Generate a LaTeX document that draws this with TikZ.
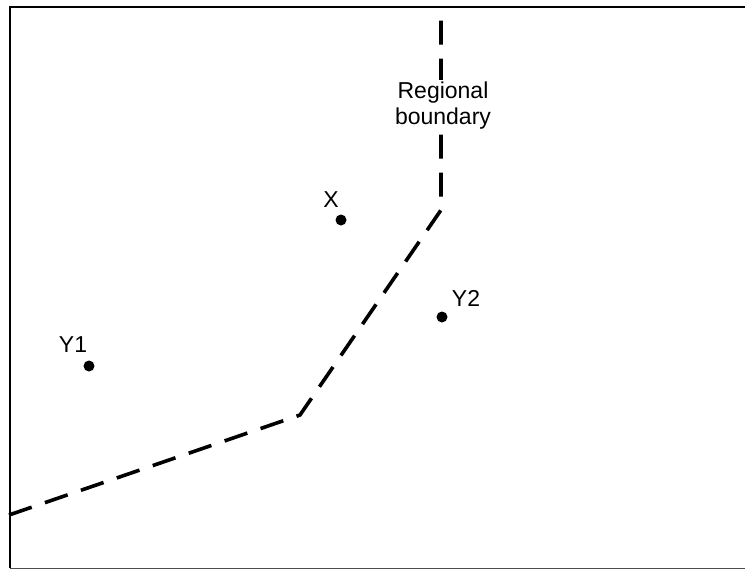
\documentclass[tikz,border=0pt]{standalone}
\usepackage{fontspec}
\setmainfont{Liberation Sans}
\begin{document}
\begin{tikzpicture}[x=1pt,y=-1pt,
  frameline/.style={line width=1.6pt,black},
  boundary/.style={line width=3.6pt,dash pattern=on 24pt off 14pt},
  pt/.style={circle,fill=black,inner sep=0pt,minimum size=11pt},
  lbl/.style={font=\fontsize{23}{26}\selectfont,inner sep=1pt}]
\useasboundingbox (0,0) rectangle (745,570);
% frame
\coordinate (tl) at (10,7);
\coordinate (tr) at (745,7);
\coordinate (bl) at (10,568);
\coordinate (br) at (745,568);
\draw[frameline] (tr) -- (tl) -- (bl);
\draw[line width=1pt,black!70] (bl) -- (br);
% boundary
\coordinate (b0) at (441,9);
\coordinate (b1) at (441,210);
\coordinate (b2) at (300,415);
\coordinate (b3) at (9,515);
\draw[boundary] (b3) -- (b2) -- (b1) -- (b0);
\node[lbl,fill=white,align=center,inner sep=2pt] (rb) at (443,106) {Regional\\boundary};
% points
\node[pt] (x) at (341,220) {};
\node[pt] (y1) at (89,366) {};
\node[pt] (y2) at (442,317) {};
\node[lbl] (xl) at (331,200) {X};
\node[lbl] (y1l) at (73,345) {Y1};
\node[lbl] (y2l) at (466,298) {Y2};
\end{tikzpicture}
\end{document}
